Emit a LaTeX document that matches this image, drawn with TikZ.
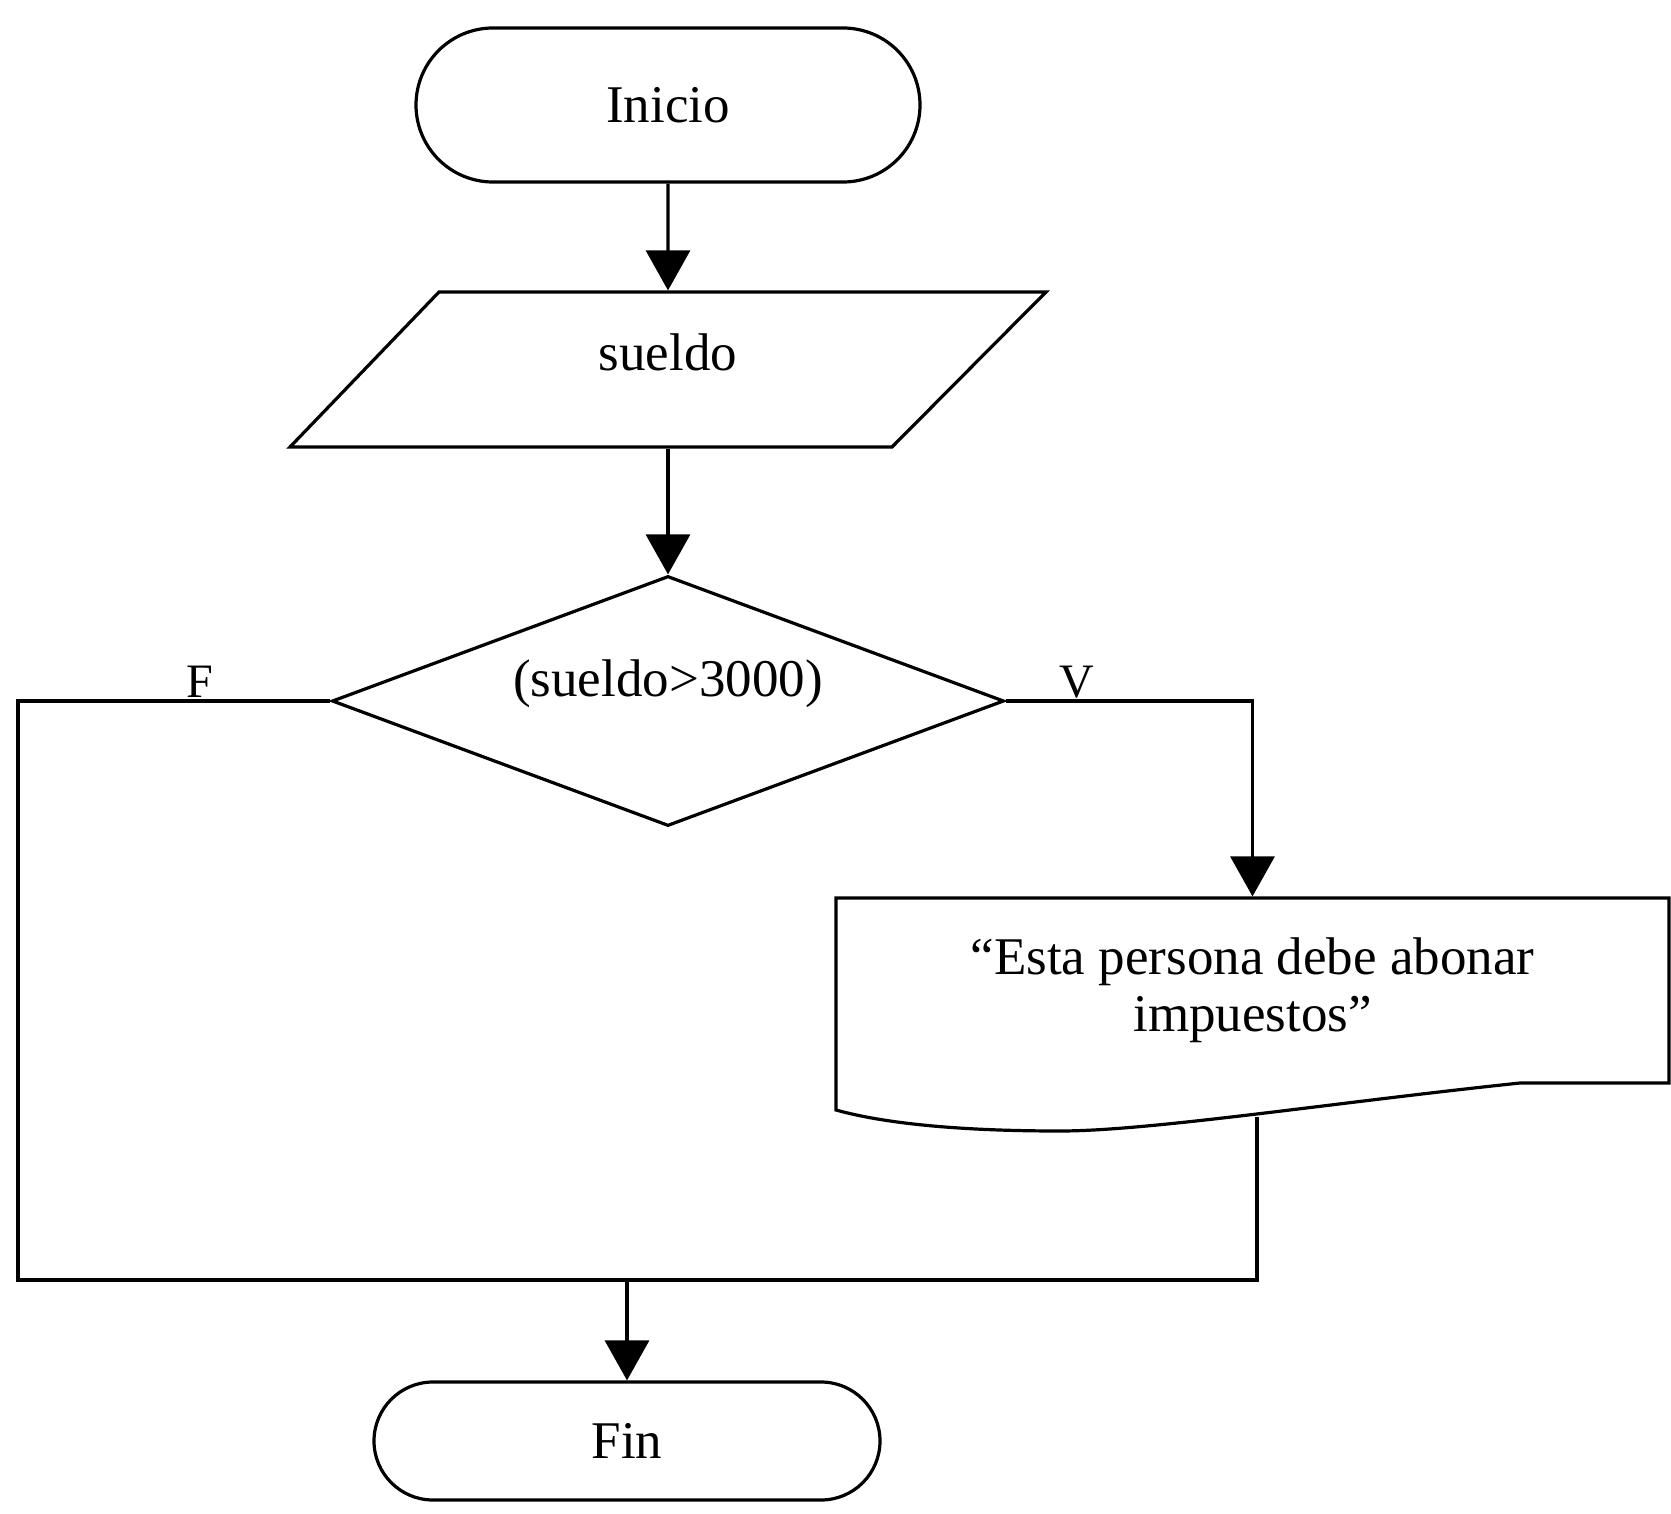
\documentclass[tikz,border=0pt]{standalone}
\usepackage{fontspec}
\setmainfont{Liberation Serif}
\usetikzlibrary{shapes.geometric,shapes.misc,arrows.meta}
\begin{document}
\begin{tikzpicture}[x=0.5pt,y=-0.5pt,
  line width=1.6pt,
  every node/.style={font=\fontsize{26.5pt}{28.5pt}\selectfont, inner sep=0pt},
  term/.style={draw, rounded rectangle, minimum width=252pt, minimum height=77pt},
  iobox/.style={rectangle, minimum width=225pt, minimum height=77.5pt},
  decision/.style={draw, diamond, minimum width=336pt, minimum height=125pt},
  docbox/.style={rectangle, minimum width=416.5pt, minimum height=92.5pt, align=center},
  lbl/.style={font=\fontsize{24pt}{26pt}\selectfont, anchor=base},
  arr/.style={-{Triangle[width=22pt,length=20pt]}}
]
\useasboundingbox (0,0) rectangle (1671,1514);

% Start
\node[term] (ini) at (668,105) {Inicio};

% Input
\node[iobox, label={[yshift=8.75pt]center:sueldo}] (inp) at (668,369.5) {};
\draw (290,447) -- (439,292) -- (1046,292) -- (892,447) -- cycle;

% Decision
\node[decision, label={[yshift=8.5pt]center:(sueldo>3000)}] (dec) at (668,701) {};

% Document (output)
\node[docbox] (doc) at (1252.5,990.5) {“Esta persona debe abonar\\impuestos”};
\draw (836,898) -- (1669,898) -- (1669,1083) -- (1520,1083)
  .. controls (1330,1103) and (1150,1131) .. (1060,1131)
  .. controls (970,1131) and (890,1125) .. (836,1110) -- cycle;

% End
\node[term, minimum width=253pt, minimum height=59pt] (fin) at (627,1441) {Fin};

% Coordinates
\coordinate (fcorner) at (18,701);
\coordinate (join) at (627,1280);
\coordinate (docout) at (1257,1117);

% Connectors
\draw[arr] (ini) -- (inp.north);
\draw[arr] (inp.south) -- (dec.north);
\draw[arr] (dec.east) -| (doc.north);
\draw (dec.west) -- (fcorner) |- (join);
\draw (docout) |- (join);
\draw[arr] (join) -- (fin.north);

% Branch labels
\node[lbl] (flab) at (200,697) {F};
\node[lbl] (vlab) at (1077,697) {V};
\end{tikzpicture}
\end{document}
